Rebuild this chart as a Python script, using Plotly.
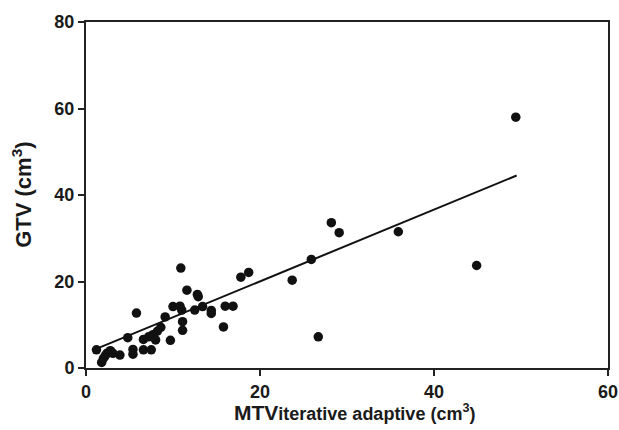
import plotly.graph_objects as go

mtv = [1.2, 1.8, 2.0, 2.2, 2.4, 2.8, 3.1, 3.9, 4.8, 5.4, 5.4, 6.6, 7.5, 5.8, 6.6, 7.2, 7.7, 8.2,
       8.6, 8.0, 9.1, 9.7, 10.0, 10.8, 11.0, 10.9, 11.6, 12.8, 12.9, 11.1, 11.1, 12.5, 13.4, 14.4,
       14.4, 16.0, 16.9, 15.8, 17.8, 18.7, 23.7, 25.9, 26.7, 28.2, 29.1, 35.9, 44.9, 49.4]
gtv = [4.2, 1.3, 2.2, 2.8, 3.4, 4.0, 3.4, 3.0, 7.0, 4.3, 3.2, 4.2, 4.2, 12.7, 6.6, 7.2, 7.7, 8.5,
       9.4, 6.5, 11.8, 6.4, 14.2, 14.3, 13.4, 23.1, 18.0, 17.0, 16.5, 10.7, 8.7, 13.4, 14.2, 13.3,
       12.6, 14.3, 14.3, 9.5, 21.0, 22.1, 20.3, 25.1, 7.2, 33.6, 31.3, 31.5, 23.7, 58.0]
fit_x = [0.9, 49.5]
fit_y = [4.2, 44.5]

x_ticks = [0, 20, 40, 60]
y_ticks = [0, 20, 40, 60, 80]

FONT = "Liberation Sans"
INK = "#1a1a1a"

fig = go.Figure()
fig.add_trace(go.Scatter(x=fit_x, y=fit_y, mode="lines",
                         line=dict(color="#111111", width=2), showlegend=False))
fig.add_trace(go.Scatter(x=mtv, y=gtv, mode="markers",
                         marker=dict(color="#111111", size=9.5), showlegend=False))

axis_common = dict(showline=True, linecolor="#222222", linewidth=2, mirror=True,
                   ticks="outside", ticklen=6, tickwidth=2, tickcolor="#222222",
                   showgrid=False, zeroline=False, automargin=False,
                   tickfont=dict(family=FONT, size=18, color=INK))

fig.update_xaxes(range=[0, 60], tickvals=x_ticks, ticktext=[f"<b>{t}</b>" for t in x_ticks],
                 **axis_common)
fig.update_yaxes(range=[0, 80], tickvals=y_ticks, ticktext=[f"<b>{t}</b>" for t in y_ticks],
                 **axis_common)

fig.add_annotation(xref="paper", yref="paper", x=0.515, y=-0.128, xanchor="center", yanchor="middle",
                   text="<b>MTV</b><b><span style='font-size:18px'>iterative adaptive (cm<sup>3</sup>)</span></b>",
                   showarrow=False, font=dict(family=FONT, size=21, color=INK))
fig.add_annotation(xref="paper", yref="paper", x=-0.123, y=0.5, xanchor="center", yanchor="middle",
                   text="<b>GTV (cm<sup>3</sup>)</b>", textangle=-90,
                   showarrow=False, font=dict(family=FONT, size=22, color=INK))

fig.update_layout(width=619, height=430, margin=dict(l=86, r=11, t=22, b=62),
                  plot_bgcolor="white", paper_bgcolor="white")
fig.write_html("out.html")
